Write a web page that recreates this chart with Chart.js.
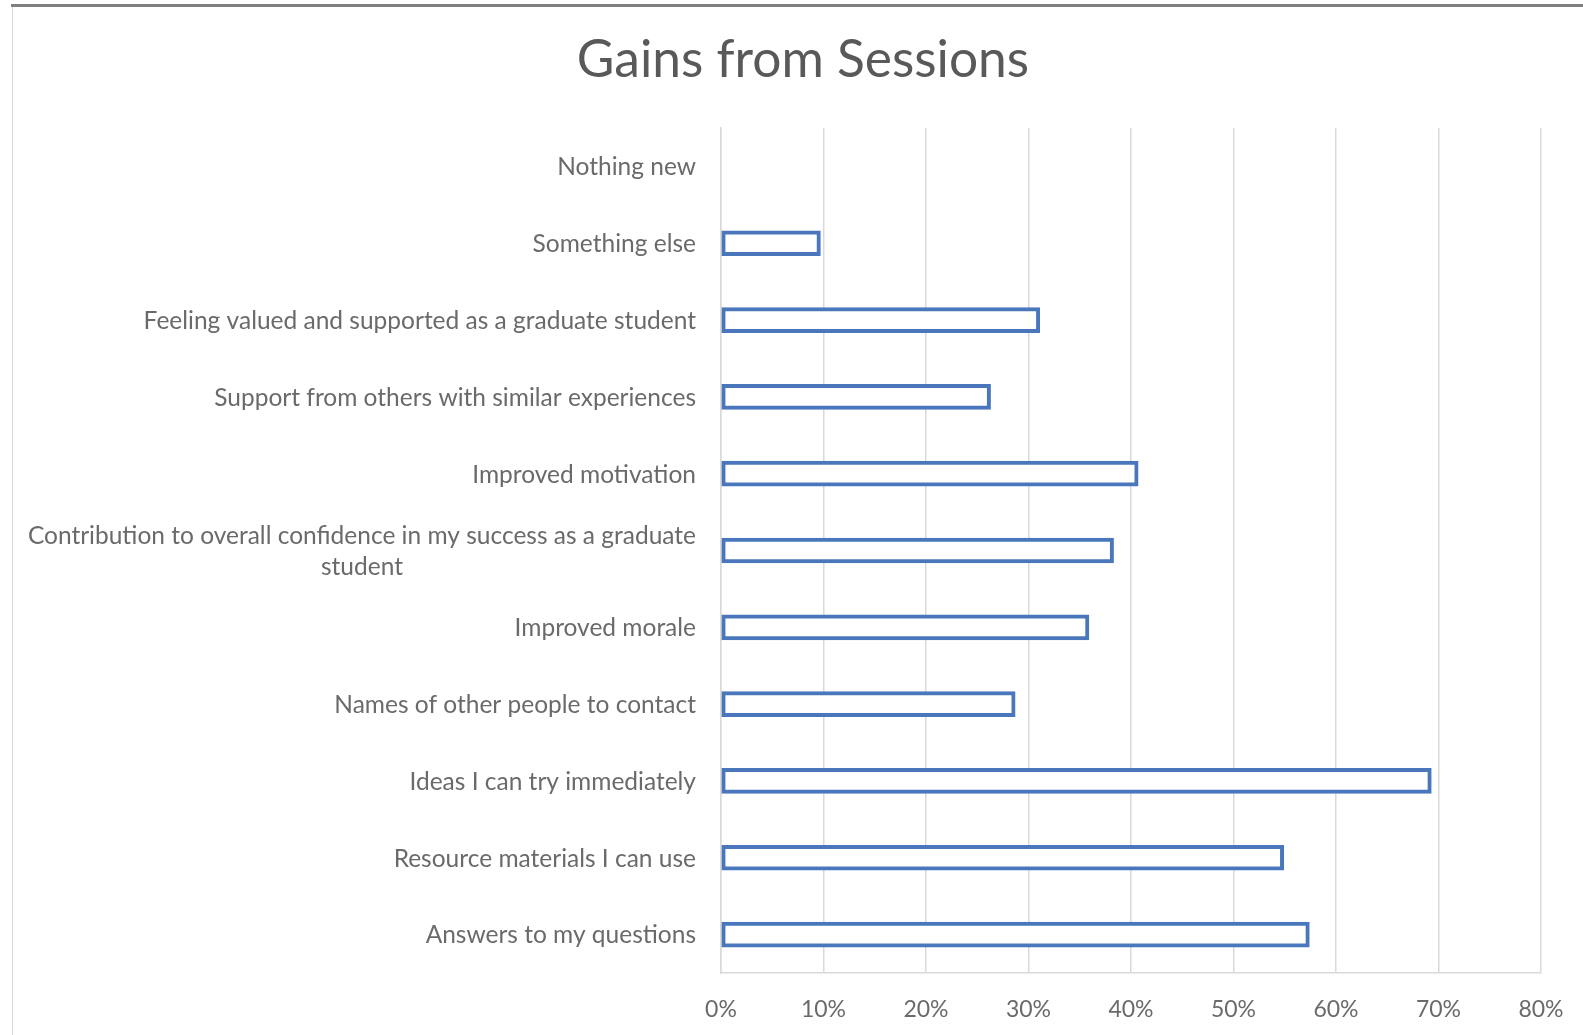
<!DOCTYPE html>
<html><head><meta charset="utf-8">
<script src="https://cdn.jsdelivr.net/npm/chart.js@4.4.1/dist/chart.umd.min.js"></script>
<style>
html,body{margin:0;padding:0;background:#fff;}
#wrap{position:relative;width:1583px;height:1035px;overflow:hidden;}
canvas{position:absolute;left:0;top:0;}
#topline{position:absolute;left:11px;top:4px;right:0;height:3px;background:#808080;}
#leftline{position:absolute;left:12px;top:7px;bottom:0;width:1px;background:#d9d9d9;}
</style></head><body>
<div id="wrap"><canvas id="c" width="1583" height="1035"></canvas><div id="topline"></div><div id="leftline"></div></div>
<script>
const chartTitle = 'Gains from Sessions';
const categories = [
  'Nothing new',
  'Something else',
  'Feeling valued and supported as a graduate student',
  'Support from others with similar experiences',
  'Improved motivation',
  ['Contribution to overall confidence in my success as a graduate', 'student'],
  'Improved morale',
  'Names of other people to contact',
  'Ideas I can try immediately',
  'Resource materials I can use',
  'Answers to my questions'
];
const values = [0, 9.7, 31.1, 26.3, 40.7, 38.3, 35.9, 28.7, 69.3, 54.9, 57.4];
const xTickValues = [0, 10, 20, 30, 40, 50, 60, 70, 80];

const FONT = 'Lato, "Open Sans", sans-serif';
const TEXT = '#6a6a6a';
const GRID = '#d9d9d9';

const labelPlugin = {
  id: 'catLabels',
  afterDraw(chart) {
    const ctx = chart.ctx;
    const ys = chart.scales.y;
    const right = ys.right - 25;
    ctx.save();
    ctx.fillStyle = TEXT;
    ctx.font = '24.5px ' + FONT;
    ctx.textBaseline = 'middle';
    categories.forEach((lab, i) => {
      const y = ys.getPixelForValue(i) + 1;
      if (Array.isArray(lab)) {
        const w = Math.max(...lab.map(l => ctx.measureText(l).width));
        const cx = right - w / 2;
        const lh = 31;
        ctx.textAlign = 'center';
        lab.forEach((l, j) => {
          ctx.fillText(l, cx, y + (j - (lab.length - 1) / 2) * lh);
        });
      } else {
        ctx.textAlign = 'right';
        ctx.fillText(lab, right, y);
      }
    });
    // title
    ctx.font = '51.5px ' + FONT;
    ctx.textAlign = 'center';
    ctx.textBaseline = 'alphabetic';
    ctx.fillStyle = '#595959';
    ctx.fillText(chartTitle, 803, 77);
    ctx.restore();
  }
};

new Chart(document.getElementById('c'), {
  type: 'bar',
  data: {
    labels: categories,
    datasets: [{
      data: values,
      backgroundColor: '#ffffff',
      borderColor: '#4a76bc',
      borderWidth: 4,
      borderSkipped: false,
      barThickness: 25
    }]
  },
  options: {
    indexAxis: 'y',
    responsive: false,
    animation: false,
    layout: { padding: { top: 128, right: 42, bottom: 0, left: 0 } },
    plugins: { legend: { display: false }, title: { display: false }, tooltip: { enabled: false } },
    scales: {
      x: {
        min: 0, max: 80,
        afterBuildTicks(scale) { scale.ticks = xTickValues.map(v => ({ value: v })); },
        afterFit(scale) { scale.height = 62; scale.paddingLeft = 0; scale.paddingRight = 0; },
        ticks: {
          callback: v => v + '%',
          color: TEXT,
          font: { family: FONT, size: 23 },
          padding: 23,
          maxRotation: 0
        },
        grid: { color: GRID, lineWidth: 1.5, drawTicks: false },
        border: { display: true, color: GRID, width: 1.5 }
      },
      y: {
        afterFit(scale) { scale.width = 721; scale.paddingTop = 0; scale.paddingBottom = 0; },
        ticks: { display: false },
        grid: { display: false, drawTicks: false },
        border: { display: true, color: GRID, width: 1.5 }
      }
    }
  },
  plugins: [labelPlugin]
});
</script>
</body></html>
